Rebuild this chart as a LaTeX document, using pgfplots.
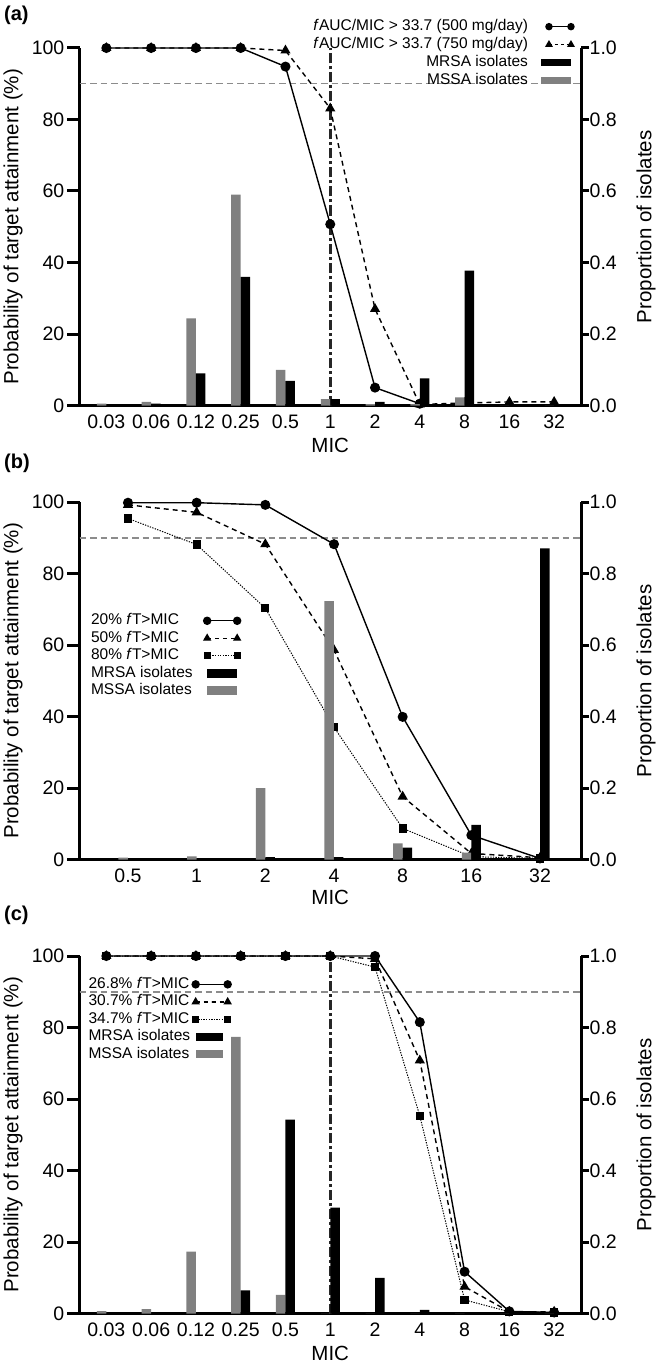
\documentclass[border=0pt]{standalone}
\usepackage{fontspec}
\setmainfont{Liberation Sans}
\usepackage{pgfplots}
\usepackage{pgfplotstable}
\pgfplotsset{compat=1.18}
\definecolor{barGray}{RGB}{128,128,128}
\definecolor{refGray}{RGB}{140,140,140}

\pgfplotstableread{
x p500 p750 mssa mrsa
0 100 100 0.005 0
1 100 100 0.010 0.005
2 100 100 0.244 0.090
3 100 100 0.590 0.360
4 94.8 99.3 0.100 0.069
5 50.7 83.1 0.018 0.018
6 5.0 27.0 0.004 0.010
7 0.5 0.3 0.004 0.076
8 nan 0.7 0.023 0.377
9 nan 1.0 0 0
10 nan 1.0 0 0
}\dataA

\pgfplotstableread{
x p20 p50 p80 mssa mrsa
0 99.8 99.2 95.4 0.005 0
1 99.8 97.1 88.1 0.009 0
2 99.2 88.2 70.3 0.200 0.007
3 88.2 58.6 37.0 0.723 0.007
4 39.9 17.6 8.7 0.045 0.033
5 6.8 1.7 0.8 0.019 0.097
6 0.3 0.5 0.3 0 0.870
}\dataB

\pgfplotstableread{
x p268 p307 p347 mssa mrsa
0 100 100 100 0.007 0
1 100 100 100 0.012 0
2 100 100 100 0.173 0
3 100 100 100 0.774 0.065
4 100 100 100 0.052 0.542
5 100 100 100 0 0.296
6 100 99.2 96.9 0 0.100
7 81.5 70.8 55.3 0 0.010
8 11.7 7.5 3.8 0 0
9 0.6 0.5 0.5 0 0
10 0.3 0.5 0.3 0 0
}\dataC

\tikzset{
  serSolid/.style={black, line width=1.4pt, mark=*, mark size=4.3pt, mark options={solid, fill=black}},
  serDash/.style={black, line width=1.4pt, dash pattern=on 5pt off 4pt, mark=triangle*, mark size=4.5pt, mark options={solid, fill=black}},
  serDot/.style={black, line width=1pt, dash pattern=on 1.3pt off 1.3pt, mark=square*, mark size=3.6pt, mark options={solid, fill=black}},
}

\pgfplotsset{
  every tick label/.append style={font=\fontsize{19.5}{22}\selectfont},
  /pgf/number format/assume math mode=true,
  barM/.style={ybar, bar width=9.5pt, bar shift=4.75pt, fill=black, draw=none},
  barS/.style={ybar, bar width=9.5pt, bar shift=-4.75pt, fill=barGray, draw=none},
  panelL/.style={scale only axis, width=501.5pt, height=357.5pt, anchor=south west,
    ymin=0, ymax=100, ytick={0,20,40,60,80,100},
    axis x line*=bottom, axis y line*=left,
    axis line style={line width=3pt},
    x axis line style={shorten <=-11.5pt},
    tick align=outside, major tick length=12pt,
    ytick style={line width=3pt, black},
    xtick style={draw=none},
    xticklabel style={inner sep=0pt, yshift=2.5pt},
    yticklabel style={inner sep=3pt},
    clip=false,
    xlabel={MIC}, ylabel={Probability of target attainment (\%)},
    xlabel style={font=\fontsize{20.5}{24}\selectfont, at={(axis description cs:0.5,-0.1105)}, anchor=center},
    ylabel style={font=\fontsize{20.5}{24}\selectfont, at={(axis description cs:-0.1326,0.5)}, anchor=center},
  },
  panelR/.style={scale only axis, width=501.5pt, height=357.5pt, anchor=south west,
    ymin=0, ymax=1, ytick={0,0.2,0.4,0.6,0.8,1},
    axis y line*=right, axis x line=none,
    axis line style={line width=3pt},
    tick align=outside, major tick length=8pt,
    ytick style={line width=3pt, black},
    clip=false,
    ylabel={Proportion of isolates},
    ylabel style={font=\fontsize{20.5}{24}\selectfont, at={(axis description cs:1.1296,0.5)}, anchor=center},
    yticklabel style={inner sep=0.5pt, /pgf/number format/.cd, fixed, fixed zerofill, precision=1},
    legend plot pos=right,
    legend style={draw=none, fill=none, inner sep=0pt, outer sep=0pt,
      font=\fontsize{15.5}{18}\selectfont,
      nodes={inner sep=0pt, text height=11pt, text depth=3.5pt}},
  },
}

\begin{document}
\begin{tikzpicture}
\useasboundingbox (0,0) rectangle (663pt,-1364pt);

% ---------------- panel (a)
\node[anchor=west, inner sep=0pt, font=\bfseries\fontsize{20}{24}\selectfont] at (4pt,-15pt) {(a)};
\begin{axis}[panelL, at={(79.5pt,-405.5pt)}, xmin=-0.6, xmax=10.6,
  xtick={0,...,10}, xticklabels={0.03,0.06,0.12,0.25,0.5,1,2,4,8,16,32}]
\addplot[draw=refGray, line width=1.5pt, dash pattern=on 6.5pt off 4pt] coordinates {(-0.6,90) (10.6,90)};
\addplot[draw=black!85, line width=3pt, dash pattern=on 10pt off 3pt on 3pt off 3pt] coordinates {(5,0) (5,100)};
\addplot[serSolid] table[x=x, y=p500] {\dataA};
\addplot[serDash] table[x=x, y=p750] {\dataA};
\end{axis}
\begin{axis}[panelR, at={(79.5pt,-405.5pt)}, xmin=-0.6, xmax=10.6,
  legend cell align=right,
  legend style={at={(axis description cs:0.986,1.080)}, anchor=north east, row sep=3.5pt, column sep=13pt},
  legend image code/.code={\draw[mark repeat=2, mark phase=1, #1] plot coordinates {(8pt,0pt) (19pt,0pt) (30pt,0pt)};},
  area legend/.style={legend image code/.code={\fill[##1] (0pt,-3.5pt) rectangle (30pt,3.5pt);}}]
\addlegendimage{serSolid, mark size=3pt}
\addlegendentry{\textit{f}AUC/MIC > 33.7 (500 mg/day)}
\addlegendimage{serDash, mark size=3.2pt, dash pattern=on 3pt off 3pt}
\addlegendentry{\textit{f}AUC/MIC > 33.7 (750 mg/day)}
\addlegendimage{area legend, fill=black, draw=none}
\addlegendentry{MRSA isolates}
\addlegendimage{area legend, fill=barGray, draw=none}
\addlegendentry{MSSA isolates}
\addplot[barS, forget plot] table[x=x, y=mssa] {\dataA};
\addplot[barM, forget plot] table[x=x, y=mrsa] {\dataA};
\end{axis}

% ---------------- panel (b)
\node[anchor=west, inner sep=0pt, font=\bfseries\fontsize{20}{24}\selectfont] at (4pt,-463pt) {(b)};
\begin{axis}[panelL, at={(79.5pt,-859.5pt)}, xmin=-0.706, xmax=6.597,
  xtick={0,...,6}, xticklabels={0.5,1,2,4,8,16,32},
  xlabel style={at={(axis description cs:0.5,-0.105)}}]
\addplot[draw=refGray, line width=1.5pt, dash pattern=on 6.5pt off 4pt] coordinates {(-0.706,90) (6.597,90)};
\addplot[serSolid] table[x=x, y=p20] {\dataB};
\addplot[serDash] table[x=x, y=p50] {\dataB};
\addplot[serDot] table[x=x, y=p80] {\dataB};
\end{axis}
\begin{axis}[panelR, at={(79.5pt,-859.5pt)}, xmin=-0.706, xmax=6.597,
  legend cell align=left,
  legend style={at={(axis description cs:0.023,0.688)}, anchor=north west, row sep=3pt, column sep=11pt},
  legend image code/.code={\draw[mark repeat=2, mark phase=1, #1] plot coordinates {(0pt,0pt) (15pt,0pt) (30pt,0pt)};},
  area legend/.style={legend image code/.code={\fill[##1] (0pt,-4.5pt) rectangle (30pt,4.5pt);}}]
\addlegendimage{serSolid, mark size=3.5pt}
\addlegendentry{20\% \textit{f}T>MIC}
\addlegendimage{serDash, mark size=3.5pt, dash pattern=on 4pt off 4pt}
\addlegendentry{50\% \textit{f}T>MIC}
\addlegendimage{serDot, mark size=3pt}
\addlegendentry{80\% \textit{f}T>MIC}
\addlegendimage{area legend, fill=black, draw=none}
\addlegendentry{MRSA isolates}
\addlegendimage{area legend, fill=barGray, draw=none}
\addlegendentry{MSSA isolates}
\addplot[barS, forget plot] table[x=x, y=mssa] {\dataB};
\addplot[barM, forget plot] table[x=x, y=mrsa] {\dataB};
\end{axis}

% ---------------- panel (c)
\node[anchor=west, inner sep=0pt, font=\bfseries\fontsize{20}{24}\selectfont] at (4pt,-915pt) {(c)};
\begin{axis}[panelL, at={(79.5pt,-1313.5pt)}, xmin=-0.6, xmax=10.6,
  xtick={0,...,10}, xticklabels={0.03,0.06,0.12,0.25,0.5,1,2,4,8,16,32}]
\addplot[draw=refGray, line width=1.5pt, dash pattern=on 6.5pt off 4pt] coordinates {(-0.6,90) (10.6,90)};
\addplot[draw=black!85, line width=3pt, dash pattern=on 10pt off 3pt on 3pt off 3pt] coordinates {(5,0) (5,100)};
\addplot[serDot] table[x=x, y=p347] {\dataC};
\addplot[serDash] table[x=x, y=p307] {\dataC};
\addplot[serSolid] table[x=x, y=p268] {\dataC};
\end{axis}
\begin{axis}[panelR, at={(79.5pt,-1313.5pt)}, xmin=-0.6, xmax=10.6,
  legend cell align=left,
  legend style={at={(axis description cs:0.018,0.941)}, anchor=north west, row sep=3pt, column sep=2pt},
  legend image code/.code={\draw[mark repeat=2, mark phase=1, #1] plot coordinates {(0pt,0pt) (16pt,0pt) (32pt,0pt)};},
  area legend/.style={legend image code/.code={\fill[##1] (0pt,-4pt) rectangle (27pt,4pt);}}]
\addlegendimage{serSolid, mark size=3.5pt}
\addlegendentry{26.8\% \textit{f}T>MIC}
\addlegendimage{serDash, mark size=3.5pt, dash pattern=on 4pt off 4pt}
\addlegendentry{30.7\% \textit{f}T>MIC}
\addlegendimage{serDot, mark size=3pt}
\addlegendentry{34.7\% \textit{f}T>MIC}
\addlegendimage{area legend, fill=black, draw=none}
\addlegendentry{MRSA isolates}
\addlegendimage{area legend, fill=barGray, draw=none}
\addlegendentry{MSSA isolates}
\addplot[barS, forget plot] table[x=x, y=mssa] {\dataC};
\addplot[barM, forget plot] table[x=x, y=mrsa] {\dataC};
\end{axis}
\end{tikzpicture}
\end{document}
